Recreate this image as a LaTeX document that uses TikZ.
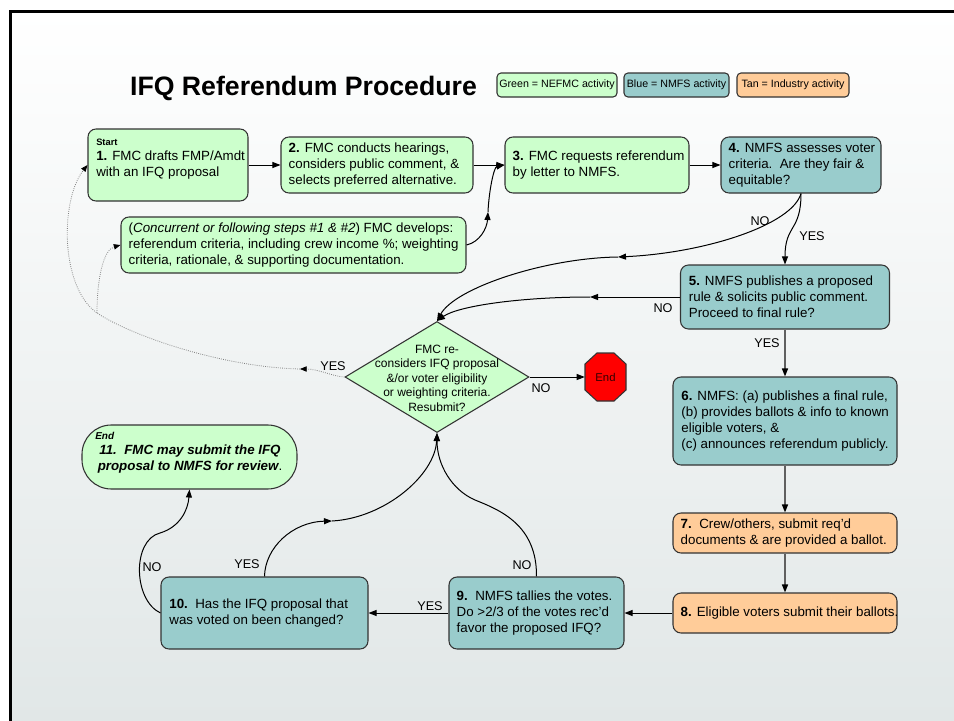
\documentclass[tikz,border=0pt]{standalone}
\usepackage{fontspec}
\setmainfont{Liberation Sans}
\usetikzlibrary{arrows.meta,shapes.geometric}
\definecolor{gfill}{HTML}{CCFFCC}
\definecolor{bfill}{HTML}{99CCCC}
\definecolor{tfill}{HTML}{FFCC99}
\definecolor{bgbot}{HTML}{E1E7E7}
\definecolor{edgec}{HTML}{333333}
\definecolor{greyline}{HTML}{606060}
\definecolor{stopred}{HTML}{FF0000}
\begin{document}
\begin{tikzpicture}[x=0.75pt,y=-0.75pt,
  box/.style={draw=edgec, line width=0.8pt, rounded corners=6pt, inner sep=0pt},
  gbox/.style={box, fill=gfill},
  bbox/.style={box, fill=bfill},
  tbox/.style={box, fill=tfill},
  txt/.style={inner sep=0pt, align=left, font=\fontsize{10}{12}\selectfont},
  lbl/.style={inner sep=0pt, font=\fontsize{9.5}{11}\selectfont},
  legend/.style={rounded corners=3pt, minimum height=18pt, font=\fontsize{8}{9}\selectfont},
  conn/.style={draw=black, line width=0.75pt, -{Triangle[length=6pt,width=4.5pt]}},
  gconn/.style={draw=greyline, line width=1.1pt, -{Triangle[length=6pt,width=4.5pt,color=black]}},
  dconn/.style={draw=gray, line width=0.6pt, densely dotted, -{Triangle[length=5pt,width=4pt,color=black]}},
]
\useasboundingbox (0,0) rectangle (954,721);
\fill[white] (0,0) rectangle (954,721);
\shade[top color=white, bottom color=bgbot] (10,10) rectangle (954,721);
\draw[line width=2.25pt] (10.5,760) -- (10.5,11.5) -- (990,11.5);

% title and legend
\node[inner sep=0pt, font=\fontsize{20}{24}\selectfont\bfseries] (title) at (303.5,88) {IFQ Referendum Procedure};
\node[gbox, legend, minimum width=90pt] (lg) at (557,85) {Green = NEFMC activity};
\node[bbox, legend, minimum width=78.75pt] (lb) at (676.5,85) {Blue = NMFS activity};
\node[tbox, legend, minimum width=84pt] (lt) at (793,85) {Tan = Industry activity};

% boxes
\node[gbox, minimum width=120pt, minimum height=54pt] (b1) at (168,165) {};
\node[txt, anchor=west, font=\fontsize{7}{8}\selectfont\bfseries] (t1s) at (96,142) {Start};
\node[txt, anchor=west] (t1) at (96,165) {\textbf{1.} FMC drafts FMP/Amdt\\with an IFQ proposal};

\node[gbox, minimum width=144pt, minimum height=42pt] (b2) at (377,165) {};
\node[txt, anchor=west] (t2) at ([xshift=6pt]b2.west) {\textbf{2.} FMC conducts hearings,\\considers public comment, \&\\selects preferred alternative.};

\node[gbox, minimum width=138pt, minimum height=42pt] (b3) at (597,165) {};
\node[txt, anchor=west] (t3) at ([xshift=6pt]b3.west) {\textbf{3.} FMC requests referendum\\by letter to NMFS.};

\node[bbox, minimum width=120pt, minimum height=42pt] (b4) at (801,165) {};
\node[txt, anchor=west] (t4) at ([xshift=6pt]b4.west) {\textbf{4.} NMFS assesses voter\\criteria.\ \ Are they fair \&\\equitable?};

\node[gbox, minimum width=258.75pt, minimum height=42pt] (bc) at (293.5,245) {};
\node[txt, anchor=west] (tc) at ([xshift=6pt]bc.west) {(\textit{Concurrent or following steps \#1 \& \#2}) FMC develops:\\referendum criteria, including crew income \%; weighting\\criteria, rationale, \& supporting documentation.};

\node[bbox, minimum width=156.75pt, minimum height=48pt] (b5) at (785,297) {};
\node[txt, anchor=west] (t5) at ([xshift=6.5pt]b5.west) {\textbf{5.} NMFS publishes a proposed\\rule \& solicits public comment.\\Proceed to final rule?};

\node[bbox, minimum width=168pt, minimum height=66pt] (b6) at (785,421) {};
\node[txt, anchor=west] (t6) at ([xshift=6.5pt]b6.west) {\textbf{6.} NMFS: (a) publishes a final rule,\\(b) provides ballots \& info to known\\eligible voters, \&\\(c) announces referendum publicly.};

\node[tbox, minimum width=168pt, minimum height=30pt] (b7) at (785,533) {};
\node[txt, anchor=west] (t7) at ([xshift=6pt]b7.west) {\textbf{7.}~~Crew/others, submit req'd\\documents \& are provided a ballot.};

\node[tbox, minimum width=168pt, minimum height=30pt] (b8) at (785,613) {};
\node[txt, anchor=west] (t8) at ([xshift=6pt]b8.west) {\textbf{8.} Eligible voters submit their ballots.};

\node[bbox, minimum width=131.25pt, minimum height=54pt] (b9) at (536.5,613) {};
\node[txt, anchor=west] (t9) at ([xshift=6pt]b9.west) {\textbf{9.}~~NMFS tallies the votes.\\Do >2/3 of the votes rec'd\\favor the proposed IFQ?};

\node[bbox, minimum width=155.25pt, minimum height=54pt] (b10) at (264.5,613) {};
\node[txt, anchor=west] (t10) at ([xshift=6.5pt]b10.west) {\textbf{10.}~~Has the IFQ proposal that\\was voted on been changed?};

\node[gbox, rounded corners=22pt, minimum width=161.25pt, minimum height=48pt] (b11) at (189.5,457) {};
\node[inner sep=0pt, anchor=west, font=\fontsize{7.5}{9}\selectfont\bfseries\itshape] (t11s) at (95,436) {End};
\node[txt, align=center, font=\fontsize{10}{12}\selectfont\bfseries\itshape] (t11) at (190,459) {11.~~FMC may submit the IFQ\\proposal to NMFS for review\textnormal{.}};

% decision diamond
\node[draw=edgec, line width=0.8pt, fill=gfill, shape=diamond, inner sep=0pt, minimum width=138pt, minimum height=83.25pt] (d) at (437,377) {};
\node[inner sep=0pt, align=center, font=\fontsize{9}{10.9}\selectfont] (dt) at (437,378) {FMC re-\\considers IFQ proposal\\\&/or voter eligibility\\or weighting criteria.\\Resubmit?};

% stop sign
\draw[draw=edgec, line width=0.8pt, fill=stopred] (597,353) -- (614,353) -- (626,364) -- (626,390) -- (614,401) -- (597,401) -- (585,390) -- (585,364) -- cycle;
\node[inner sep=0pt, minimum width=30.75pt, minimum height=36pt, font=\fontsize{8.5}{10}\selectfont, text=black!80!red] (endA) at (605.5,377) {End};

% helper coordinates
\coordinate (m1) at (488,212);
\coordinate (m2) at (618,257);
\coordinate (m3) at (590,297);
\coordinate (m4) at (332,521);
\coordinate (m5) at (300,369);
\coordinate (j) at (97,313);
\coordinate (k1) at (160,533);
\coordinate (k2) at (475,500);

% connectors
\draw[conn] (b1.east) -- (b2.west);
\draw[conn] (b2.east) -- (b3.west);
\draw[conn] (b3.east) -- (b4.west);
\draw[conn] (bc.east) .. controls (480,242) and (487,228) .. (m1);
\draw[conn] (m1) .. controls (489,190) and (494,167) .. (b3.west);

\draw[conn] (b4.south) .. controls (792,225) and (705,253) .. (m2);
\draw[conn] (m2) .. controls (545,258) and (455,288) .. (d.north);
\draw[conn] (b4.south) .. controls (801,232) and (785,224) .. (b5.north);
\draw[conn] (b5.west) -- (m3);
\draw[conn] (m3) .. controls (520,297) and (458,306) .. (d.north);

\draw[gconn] (b5.south) -- (b6.north);
\draw[gconn] (b6.south) -- (b7.north);
\draw[gconn] (b7.south) -- (b8.north);
\draw[conn] (b8.west) -- (b9.east);
\draw[conn] (b9.west) -- (b10.east);

\draw[conn] (d.east) -- (endA.west);

\draw[conn] (b9.north) .. controls (537,525) and (500,510) .. (k2) .. controls (452,490) and (437,465) .. (d.south);
\draw[conn] (b10.north) .. controls (265,548) and (292,522) .. (m4);
\draw[conn] (m4) .. controls (385,518) and (435,475) .. (d.south);
\draw[conn] (b10.west) .. controls (133,600) and (132,540) .. (k1) .. controls (180,527) and (188,510) .. (b11.south);

\draw[dconn] (d.west) .. controls (335,377) and (318,369) .. (m5);
\draw[dconn] (m5) .. controls (220,367) and (130,335) .. (j) .. controls (60,287) and (60,200) .. (b1.west);
\draw[dconn] (j) .. controls (97,280) and (103,250) .. (bc.west);

% labels
\node[lbl] (l1) at (760,221) {NO};
\node[lbl] (l2) at (812,236) {YES};
\node[lbl] (l3) at (663,308) {NO};
\node[lbl] (l4) at (767,343) {YES};
\node[lbl] (l5) at (333,366) {YES};
\node[lbl] (l6) at (541,388) {NO};
\node[lbl] (l7) at (522,565) {NO};
\node[lbl] (l8) at (247,564) {YES};
\node[lbl] (l9) at (152,567) {NO};
\node[lbl] (l10) at (430,606) {YES};
\end{tikzpicture}
\end{document}
